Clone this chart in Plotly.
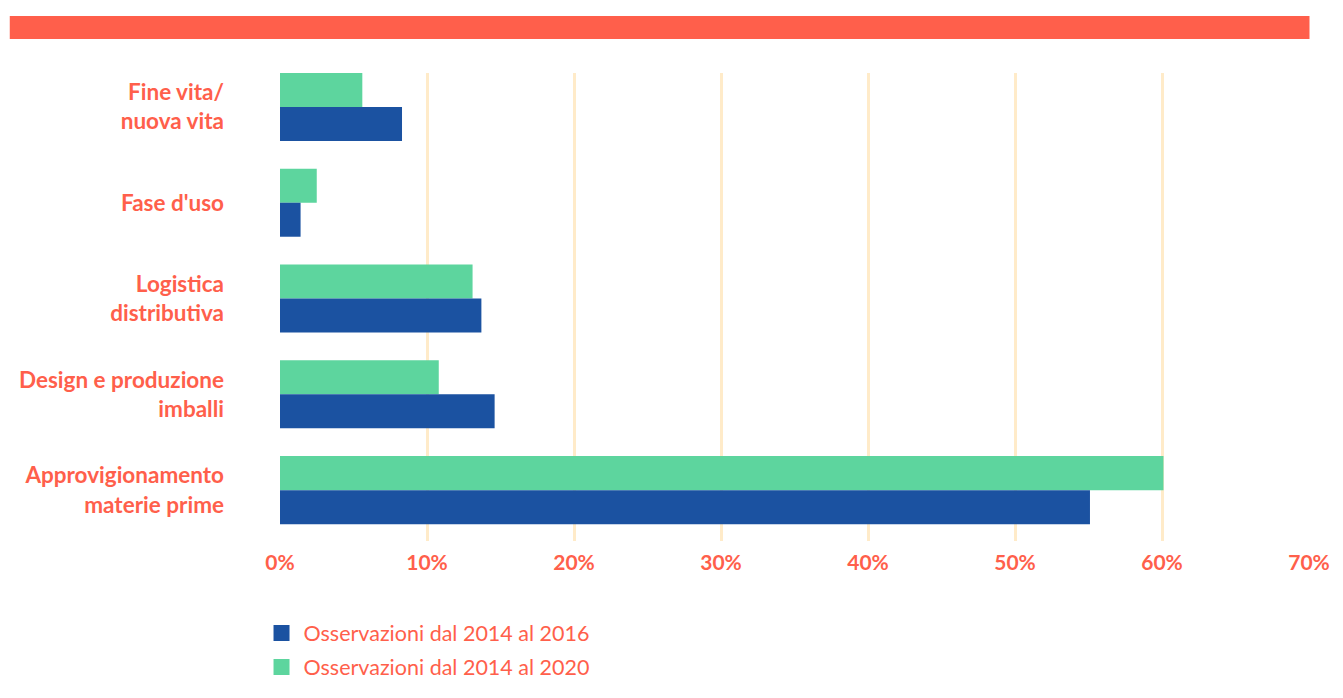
import plotly.graph_objects as go

# Phases of the packaging life cycle (top to bottom)
categories = [
    "Fine vita/<br>nuova vita",
    "Fase d'uso",
    "Logistica<br>distributiva",
    "Design e produzione<br>imballi",
    "Approvigionamento<br>materie prime",
]
# Share of observations per phase (fraction of total)
obs_2014_2016 = [0.083, 0.014, 0.137, 0.146, 0.551]
obs_2014_2020 = [0.056, 0.025, 0.131, 0.108, 0.601]
x_ticks = [0, 0.1, 0.2, 0.3, 0.4, 0.5, 0.6, 0.7]
x_tick_labels = ["0%", "10%", "20%", "30%", "40%", "50%", "60%", "70%"]
series_names = ["Osservazioni dal 2014 al 2016", "Osservazioni dal 2014 al 2020"]

ORANGE = "#FF5F4B"
BLUE = "#1B52A1"
GREEN = "#5DD59E"
GRID = "#FFEBC9"
FONT = "Lato"

# plot-area geometry in pixels
W, H = 1343, 698
L, R, T, B = 279.5, 1309.5, 73, 542
pw, ph = R - L, B - T

fig = go.Figure()
fig.add_trace(go.Bar(
    y=categories, x=obs_2014_2020, orientation="h",
    name=series_names[1], marker=dict(color=GREEN, line=dict(width=0)),
    showlegend=False, hoverinfo="x+y",
))
fig.add_trace(go.Bar(
    y=categories, x=obs_2014_2016, orientation="h",
    name=series_names[0], marker=dict(color=BLUE, line=dict(width=0)),
    showlegend=False, hoverinfo="x+y",
))
# legend entries with larger square swatches, one legend box per row
for name, color, lg in zip(series_names, [BLUE, GREEN], ["legend", "legend2"]):
    fig.add_trace(go.Scatter(
        x=[None], y=[None], mode="markers", name=name, legend=lg,
        marker=dict(symbol="square", size=16, color=color, line=dict(width=0)),
        hoverinfo="skip",
    ))

legend_style = dict(
    orientation="v", x=(259 - L) / pw, xanchor="left", yanchor="middle",
    font=dict(family=FONT, size=21.5, color=ORANGE),
    bgcolor="rgba(0,0,0,0)", itemwidth=34, tracegroupgap=0,
)

fig.update_layout(
    width=W, height=H,
    margin=dict(l=L, r=W - R, t=T, b=H - B, pad=0),
    paper_bgcolor="white", plot_bgcolor="white",
    barmode="group", bargap=0.29, bargroupgap=0,
    font=dict(family=FONT, color=ORANGE),
    showlegend=True,
    legend=dict(legend_style, y=(B - 633) / ph),
    legend2=dict(legend_style, y=(B - 667) / ph),
    xaxis=dict(
        range=[0, 0.7], tickvals=x_ticks, ticktext=x_tick_labels,
        showgrid=True, gridcolor=GRID, gridwidth=2.5,
        zeroline=False, showline=False, ticks="",
        tickfont=dict(family=FONT, size=21, color=ORANGE, weight="bold"),
        ticklabelstandoff=7, fixedrange=True,
    ),
    yaxis=dict(
        categoryorder="array", categoryarray=categories,
        range=[4.531, -0.354], showgrid=False, zeroline=False, showline=False,
        ticks="", ticklabelstandoff=55,
        tickfont=dict(family=FONT, size=22.5, color=ORANGE, weight="bold"),
        fixedrange=True,
    ),
    shapes=[dict(
        type="rect", xref="paper", yref="paper",
        x0=(9 - L) / pw, x1=(1310 - L) / pw,
        y0=(B - 39) / ph, y1=(B - 16) / ph,
        fillcolor=ORANGE, line=dict(width=0), layer="above",
    )],
)

fig.write_html("out.html")
